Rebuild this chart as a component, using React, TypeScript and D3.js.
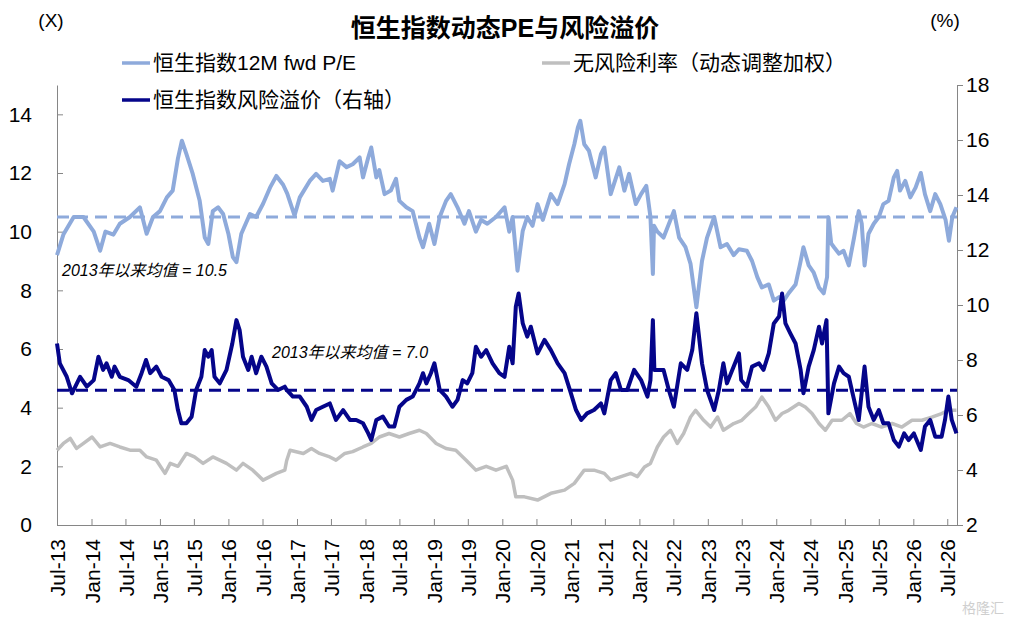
import { useEffect, useRef } from 'react';
import * as d3 from 'd3';

type Point = [string, number];

// 恒生指数12M fwd P/E (左轴, 倍)
const peSeries: Point[] = [
  ['2013-07-01', 9.2], ['2013-08-04', 9.9], ['2013-09-28', 10.5], ['2013-11-19', 10.5],
  ['2014-01-13', 10.0], ['2014-02-16', 9.35], ['2014-03-16', 10.0], ['2014-04-28', 9.9],
  ['2014-06-01', 10.27], ['2014-07-25', 10.5], ['2014-09-16', 10.83], ['2014-10-22', 9.93],
  ['2014-11-25', 10.5], ['2015-01-01', 10.7], ['2015-02-07', 11.17], ['2015-03-10', 11.4],
  ['2015-04-07', 12.5], ['2015-04-28', 13.1], ['2015-05-22', 12.65], ['2015-06-25', 11.97],
  ['2015-08-01', 11.05], ['2015-08-28', 9.8], ['2015-09-16', 9.58], ['2015-10-10', 10.7],
  ['2015-11-07', 10.83], ['2015-12-04', 10.6], ['2016-01-01', 9.93], ['2016-01-25', 9.13],
  ['2016-02-13', 8.96], ['2016-03-10', 9.93], ['2016-04-25', 10.6], ['2016-05-28', 10.5],
  ['2016-07-04', 10.95], ['2016-08-10', 11.5], ['2016-09-13', 11.9], ['2016-10-19', 11.6],
  ['2016-11-10', 11.3], ['2016-12-19', 10.55], ['2017-01-16', 11.17], ['2017-03-10', 11.73],
  ['2017-04-13', 11.97], ['2017-05-19', 11.73], ['2017-06-25', 11.8], ['2017-07-10', 11.4],
  ['2017-08-16', 12.4], ['2017-09-22', 12.2], ['2017-10-25', 12.3], ['2017-12-01', 12.53],
  ['2017-12-19', 11.85], ['2018-01-16', 12.53], ['2018-02-01', 12.87], ['2018-02-28', 11.85],
  ['2018-03-16', 12.1], ['2018-04-13', 11.28], ['2018-05-16', 11.4], ['2018-06-13', 11.8],
  ['2018-07-01', 11.05], ['2018-08-07', 10.83], ['2018-09-10', 10.7], ['2018-10-16', 9.8],
  ['2018-11-04', 9.47], ['2018-12-07', 10.27], ['2019-01-04', 9.58], ['2019-02-01', 10.5],
  ['2019-03-07', 11.05], ['2019-04-01', 11.28], ['2019-05-07', 10.83], ['2019-06-13', 10.27],
  ['2019-07-07', 10.7], ['2019-08-13', 10.0], ['2019-09-10', 10.4], ['2019-10-13', 10.27],
  ['2019-11-28', 10.5], ['2020-01-13', 10.83], ['2020-02-07', 10.0], ['2020-02-25', 10.5],
  ['2020-03-22', 8.67], ['2020-04-19', 10.03], ['2020-05-13', 10.5], ['2020-06-10', 10.2],
  ['2020-07-07', 10.94], ['2020-08-04', 10.4], ['2020-09-16', 11.28], ['2020-10-22', 10.94],
  ['2020-11-28', 11.62], ['2020-12-22', 12.3], ['2021-01-19', 12.98], ['2021-02-07', 13.55],
  ['2021-02-20', 13.78], ['2021-03-13', 12.98], ['2021-04-07', 12.76], ['2021-05-13', 11.85],
  ['2021-06-10', 12.64], ['2021-06-28', 12.87], ['2021-08-01', 11.28], ['2021-09-16', 12.19],
  ['2021-10-13', 11.4], ['2021-11-07', 11.97], ['2021-12-13', 10.94], ['2022-01-10', 11.28],
  ['2022-02-07', 11.56], ['2022-03-01', 10.5], ['2022-03-14', 8.56], ['2022-03-20', 10.2],
  ['2022-04-07', 10.0], ['2022-05-10', 9.8], ['2022-07-04', 10.7], ['2022-08-01', 9.8],
  ['2022-09-04', 9.47], ['2022-10-01', 8.9], ['2022-11-01', 7.42], ['2022-12-01', 9.0],
  ['2022-12-28', 9.8], ['2023-02-04', 10.5], ['2023-03-10', 9.47], ['2023-04-13', 9.58],
  ['2023-05-19', 9.2], ['2023-06-16', 9.4], ['2023-07-28', 9.35], ['2023-08-25', 9.0],
  ['2023-09-22', 8.45], ['2023-10-16', 8.1], ['2023-11-22', 8.2], ['2023-12-19', 7.65],
  ['2024-01-16', 7.77], ['2024-02-10', 7.65], ['2024-03-07', 7.9], ['2024-04-13', 8.2],
  ['2024-05-07', 8.9], ['2024-05-25', 9.47], ['2024-06-22', 8.85], ['2024-07-19', 8.6],
  ['2024-08-16', 8.1], ['2024-09-10', 7.9], ['2024-09-28', 8.45], ['2024-10-05', 10.49],
  ['2024-10-20', 9.6], ['2024-11-04', 9.47], ['2024-12-01', 9.25], ['2024-12-25', 9.35],
  ['2025-01-22', 8.85], ['2025-02-19', 9.8], ['2025-03-16', 10.7], ['2025-04-01', 10.27],
  ['2025-04-16', 8.85], ['2025-05-07', 9.93], ['2025-06-04', 10.27], ['2025-07-01', 10.5],
  ['2025-07-25', 10.94], ['2025-08-22', 11.05], ['2025-09-19', 11.85], ['2025-10-07', 12.07],
  ['2025-10-22', 11.4], ['2025-11-19', 11.73], ['2025-12-16', 11.17], ['2026-01-13', 11.5],
  ['2026-02-10', 12.0], ['2026-03-04', 11.28], ['2026-04-01', 10.7], ['2026-04-28', 11.28],
  ['2026-05-25', 10.94], ['2026-06-22', 10.4], ['2026-07-10', 9.69], ['2026-07-28', 10.5],
  ['2026-08-19', 10.83],
];

// 恒生指数风险溢价 (右轴, %)
const erpSeries: Point[] = [
  ['2013-07-01', 8.6], ['2013-07-16', 7.88], ['2013-08-22', 7.39], ['2013-09-19', 6.79],
  ['2013-11-01', 7.39], ['2013-12-07', 7.03], ['2014-01-13', 7.27], ['2014-02-07', 8.12],
  ['2014-03-04', 7.64], ['2014-03-22', 7.88], ['2014-04-19', 7.39], ['2014-05-04', 7.76],
  ['2014-06-01', 7.39], ['2014-07-16', 7.27], ['2014-08-28', 7.03], ['2014-09-25', 7.52],
  ['2014-10-19', 8.0], ['2014-11-10', 7.52], ['2014-12-13', 7.76], ['2015-01-10', 7.39],
  ['2015-02-16', 7.27], ['2015-03-19', 6.91], ['2015-04-07', 6.18], ['2015-04-25', 5.7],
  ['2015-05-22', 5.7], ['2015-06-19', 5.94], ['2015-07-13', 6.91], ['2015-08-10', 7.39],
  ['2015-08-28', 8.36], ['2015-09-16', 8.12], ['2015-10-04', 8.36], ['2015-10-19', 7.39],
  ['2015-11-16', 7.15], ['2015-12-22', 7.64], ['2016-01-22', 8.6], ['2016-02-13', 9.45],
  ['2016-03-01', 9.09], ['2016-03-19', 8.12], ['2016-04-16', 7.64], ['2016-05-04', 8.12],
  ['2016-05-28', 7.52], ['2016-06-25', 8.12], ['2016-07-22', 7.76], ['2016-08-19', 7.15],
  ['2016-09-22', 6.91], ['2016-10-28', 7.03], ['2016-11-07', 6.91], ['2016-12-10', 6.67],
  ['2017-01-16', 6.67], ['2017-02-22', 6.3], ['2017-03-19', 5.82], ['2017-04-13', 6.18],
  ['2017-05-19', 6.3], ['2017-06-25', 6.42], ['2017-07-28', 5.82], ['2017-09-04', 6.18],
  ['2017-10-10', 5.82], ['2017-11-13', 5.82], ['2017-12-19', 5.7], ['2018-01-16', 5.33],
  ['2018-02-01', 5.09], ['2018-02-28', 5.82], ['2018-04-04', 5.94], ['2018-05-07', 5.58],
  ['2018-06-04', 5.58], ['2018-07-01', 6.3], ['2018-08-07', 6.55], ['2018-09-10', 6.67],
  ['2018-10-16', 7.15], ['2018-11-04', 7.52], ['2018-11-22', 7.15], ['2018-12-16', 7.52],
  ['2019-01-04', 7.88], ['2019-02-01', 6.91], ['2019-03-07', 6.67], ['2019-04-10', 6.3],
  ['2019-05-07', 6.55], ['2019-06-04', 7.27], ['2019-06-28', 7.15], ['2019-07-25', 7.52],
  ['2019-08-13', 8.48], ['2019-09-10', 8.12], ['2019-10-07', 8.36], ['2019-11-10', 7.88],
  ['2019-12-16', 7.52], ['2020-01-13', 7.39], ['2020-02-07', 8.48], ['2020-02-25', 7.88],
  ['2020-03-13', 9.94], ['2020-03-28', 10.42], ['2020-04-19', 9.33], ['2020-05-13', 8.85],
  ['2020-06-01', 9.21], ['2020-07-07', 8.24], ['2020-08-13', 8.73], ['2020-09-16', 8.36],
  ['2020-10-22', 7.88], ['2020-11-28', 7.52], ['2021-01-01', 6.79], ['2021-01-28', 6.18],
  ['2021-02-25', 5.82], ['2021-03-28', 6.06], ['2021-05-04', 6.18], ['2021-06-10', 6.42],
  ['2021-06-28', 6.06], ['2021-08-01', 7.27], ['2021-08-28', 7.52], ['2021-09-25', 6.91],
  ['2021-10-28', 6.91], ['2021-12-04', 7.64], ['2022-01-10', 7.27], ['2022-02-13', 6.67],
  ['2022-03-01', 7.27], ['2022-03-14', 9.45], ['2022-03-22', 7.64], ['2022-05-10', 7.64],
  ['2022-06-07', 6.91], ['2022-07-04', 6.3], ['2022-08-10', 7.88], ['2022-09-13', 7.64],
  ['2022-10-10', 8.36], ['2022-11-01', 9.7], ['2022-12-01', 7.88], ['2022-12-28', 6.91],
  ['2023-02-04', 6.18], ['2023-03-01', 6.91], ['2023-03-25', 7.88], ['2023-04-13', 7.15],
  ['2023-05-19', 7.76], ['2023-06-16', 8.24], ['2023-06-28', 7.27], ['2023-07-28', 7.03],
  ['2023-08-25', 7.76], ['2023-10-01', 7.88], ['2023-10-25', 7.64], ['2023-11-22', 8.24],
  ['2023-12-19', 9.33], ['2024-01-16', 9.58], ['2024-02-01', 10.42], ['2024-02-19', 9.33],
  ['2024-03-16', 8.97], ['2024-04-13', 8.6], ['2024-05-10', 7.64], ['2024-05-25', 6.79],
  ['2024-06-22', 7.76], ['2024-07-19', 8.36], ['2024-08-16', 9.21], ['2024-09-01', 8.6],
  ['2024-09-25', 9.45], ['2024-10-05', 6.06], ['2024-11-04', 7.15], ['2024-12-01', 7.76],
  ['2024-12-25', 7.52], ['2025-01-22', 7.39], ['2025-02-19', 6.55], ['2025-03-16', 5.82],
  ['2025-04-16', 7.76], ['2025-05-07', 6.3], ['2025-06-04', 5.82], ['2025-07-01', 6.18],
  ['2025-07-25', 5.7], ['2025-08-22', 5.7], ['2025-09-19', 5.09], ['2025-10-16', 4.85],
  ['2025-11-13', 5.33], ['2025-12-07', 5.09], ['2026-01-04', 5.33], ['2026-02-10', 4.73],
  ['2026-03-04', 5.58], ['2026-04-01', 5.82], ['2026-04-28', 5.21], ['2026-06-01', 5.21],
  ['2026-06-19', 5.82], ['2026-07-07', 6.67], ['2026-07-25', 5.82], ['2026-08-19', 5.33],
];

// 无风险利率（动态调整加权）(左轴刻度)
const rfSeries: Point[] = [
  ['2013-07-01', 2.55], ['2013-08-04', 2.78], ['2013-09-10', 2.95], ['2013-10-13', 2.61],
  ['2013-11-19', 2.78], ['2014-01-04', 3.0], ['2014-02-16', 2.66], ['2014-04-10', 2.78],
  ['2014-06-01', 2.66], ['2014-07-25', 2.55], ['2014-09-16', 2.55], ['2014-10-22', 2.32],
  ['2014-12-13', 2.21], ['2015-01-28', 1.76], ['2015-02-25', 2.1], ['2015-04-07', 2.0],
  ['2015-05-22', 2.44], ['2015-07-04', 2.32], ['2015-08-19', 2.1], ['2015-10-10', 2.32],
  ['2015-11-16', 2.21], ['2015-12-22', 2.1], ['2016-02-13', 1.87], ['2016-03-19', 2.1],
  ['2016-05-10', 1.87], ['2016-07-04', 1.53], ['2016-08-10', 1.65], ['2016-09-13', 1.76],
  ['2016-10-28', 1.87], ['2016-11-07', 2.2], ['2016-11-25', 2.55], ['2017-02-04', 2.44],
  ['2017-03-19', 2.61], ['2017-05-01', 2.44], ['2017-06-25', 2.32], ['2017-07-28', 2.21],
  ['2017-09-13', 2.44], ['2017-10-25', 2.5], ['2017-12-19', 2.66], ['2018-02-01', 2.78],
  ['2018-03-16', 3.0], ['2018-05-07', 3.12], ['2018-07-01', 3.0], ['2018-08-22', 3.12],
  ['2018-10-16', 3.23], ['2018-11-22', 3.12], ['2019-01-13', 2.78], ['2019-03-07', 2.61],
  ['2019-04-28', 2.55], ['2019-06-22', 2.21], ['2019-08-13', 1.87], ['2019-10-07', 2.0],
  ['2019-11-28', 1.87], ['2020-01-22', 2.0], ['2020-02-25', 1.53], ['2020-03-13', 0.96],
  ['2020-04-28', 0.96], ['2020-07-07', 0.85], ['2020-09-16', 1.08], ['2020-11-28', 1.19],
  ['2021-01-19', 1.42], ['2021-03-13', 1.87], ['2021-05-04', 1.87], ['2021-06-28', 1.76],
  ['2021-08-01', 1.53], ['2021-09-25', 1.65], ['2021-11-16', 1.76], ['2021-12-22', 1.65],
  ['2022-01-28', 1.98], ['2022-03-01', 2.1], ['2022-04-07', 2.66], ['2022-05-10', 3.0],
  ['2022-06-16', 3.23], ['2022-07-22', 2.78], ['2022-08-25', 3.12], ['2022-10-01', 3.68],
  ['2022-10-28', 3.91], ['2022-12-10', 3.57], ['2023-01-16', 3.34], ['2023-02-22', 3.68],
  ['2023-03-25', 3.23], ['2023-05-19', 3.46], ['2023-07-01', 3.57], ['2023-08-07', 3.8],
  ['2023-09-13', 4.02], ['2023-10-16', 4.36], ['2023-11-22', 4.02], ['2023-12-28', 3.57],
  ['2024-02-01', 3.8], ['2024-03-07', 3.91], ['2024-05-01', 4.14], ['2024-06-04', 4.02],
  ['2024-07-10', 3.8], ['2024-08-16', 3.46], ['2024-09-19', 3.23], ['2024-10-25', 3.57],
  ['2024-12-16', 3.57], ['2025-01-28', 3.8], ['2025-03-04', 3.46], ['2025-04-10', 3.34],
  ['2025-05-25', 3.46], ['2025-07-16', 3.34], ['2025-09-10', 3.46], ['2025-11-01', 3.34],
  ['2025-12-25', 3.57], ['2026-02-16', 3.57], ['2026-04-10', 3.68], ['2026-06-01', 3.8],
  ['2026-07-07', 3.91], ['2026-08-19', 3.91],
];

// 2013年以来均值 (dashed lines sit where the picture puts them; labels show the rounded value)
const peMean = 10.5;
const erpMean = 6.9;
const peMeanLabel = '2013年以来均值 = 10.5';
const erpMeanLabel = '2013年以来均值 = 7.0';

const leftTicks = [0, 2, 4, 6, 8, 10, 12, 14];
const rightTicks = [2, 4, 6, 8, 10, 12, 14, 16, 18];
const xTickLabels = [
  'Jul-13', 'Jan-14', 'Jul-14', 'Jan-15', 'Jul-15', 'Jan-16', 'Jul-16', 'Jan-17', 'Jul-17',
  'Jan-18', 'Jul-18', 'Jan-19', 'Jul-19', 'Jan-20', 'Jul-20', 'Jan-21', 'Jul-21', 'Jan-22',
  'Jul-22', 'Jan-23', 'Jul-23', 'Jan-24', 'Jul-24', 'Jan-25', 'Jul-25', 'Jan-26', 'Jul-26',
];

const PE_COLOR = '#8eaadb';
const ERP_COLOR = '#05058a';
const RF_COLOR = '#bfbfbf';
const AXIS_COLOR = '#868686';
const FONT = '"Liberation Sans", Arial, "Noto Sans CJK SC", sans-serif';

export default function App() {
  const svgRef = useRef<SVGSVGElement>(null);

  useEffect(() => {
    if (!svgRef.current) return;
    const svg = d3.select(svgRef.current);
    svg.selectAll('*').remove();

    const left = 57, right = 957, top = 85, bottom = 525;
    const parseDate = d3.timeParse('%Y-%m-%d');
    const parseTick = d3.timeParse('%b-%y');

    const x = d3.scaleTime()
      .domain([parseDate('2013-07-01') as Date, parseDate('2026-08-22') as Date])
      .range([left, right]);
    const yL = d3.scaleLinear().domain([0, 15]).range([bottom, top]);
    const yR = d3.scaleLinear().domain([2, 18]).range([bottom, top]);

    // Title and unit labels
    svg.append('text')
      .attr('x', 505).attr('y', 28).attr('dy', '0.35em')
      .attr('text-anchor', 'middle')
      .attr('font-size', 25).attr('font-weight', 'bold')
      .text('恒生指数动态PE与风险溢价');
    svg.append('text')
      .attr('x', 51).attr('y', 20).attr('dy', '0.35em')
      .attr('text-anchor', 'middle').attr('font-size', 19)
      .text('(X)');
    svg.append('text')
      .attr('x', 945).attr('y', 20).attr('dy', '0.35em')
      .attr('text-anchor', 'middle').attr('font-size', 19)
      .text('(%)');

    // Legend
    const legend = [
      { label: '恒生指数12M fwd P/E', color: PE_COLOR, x: 122, y: 63 },
      { label: '无风险利率（动态调整加权）', color: RF_COLOR, x: 542, y: 63 },
      { label: '恒生指数风险溢价（右轴）', color: ERP_COLOR, x: 122, y: 100 },
    ];
    legend.forEach(item => {
      svg.append('line')
        .attr('x1', item.x).attr('x2', item.x + 28)
        .attr('y1', item.y).attr('y2', item.y)
        .attr('stroke', item.color).attr('stroke-width', 3.5);
      svg.append('text')
        .attr('x', item.x + 31).attr('y', item.y).attr('dy', '0.35em')
        .attr('font-size', 21)
        .text(item.label);
    });

    // Axes
    const xAxis = svg.append('g')
      .attr('transform', `translate(0,${bottom})`)
      .call(d3.axisBottom(x)
        .tickValues(xTickLabels.map(t => parseTick(t) as Date))
        .tickFormat((_, i) => xTickLabels[i])
        .tickSizeInner(-6)
        .tickSizeOuter(0));
    xAxis.selectAll('text')
      .attr('transform', 'rotate(-90)')
      .attr('text-anchor', 'end')
      .attr('x', -14).attr('y', 0).attr('dy', '0.36em')
      .attr('font-size', 21).attr('fill', '#000');

    const yAxisL = svg.append('g')
      .attr('transform', `translate(${left},0)`)
      .call(d3.axisLeft(yL).tickValues(leftTicks).tickSizeInner(-6).tickSizeOuter(0).tickPadding(25));
    yAxisL.selectAll('text').attr('font-size', 21).attr('fill', '#000');

    const yAxisR = svg.append('g')
      .attr('transform', `translate(${right},0)`)
      .call(d3.axisRight(yR).tickValues(rightTicks).tickSizeInner(6).tickSizeOuter(0).tickPadding(3));
    yAxisR.selectAll('text').attr('font-size', 21).attr('fill', '#000');

    [xAxis, yAxisL, yAxisR].forEach(g => {
      g.attr('font-family', FONT);
      g.select('.domain').attr('stroke', AXIS_COLOR);
      g.selectAll('line').attr('stroke', AXIS_COLOR);
    });

    // Mean lines
    svg.append('line')
      .attr('x1', left).attr('x2', right)
      .attr('y1', yL(peMean)).attr('y2', yL(peMean))
      .attr('stroke', PE_COLOR).attr('stroke-width', 3)
      .attr('stroke-dasharray', '12,7');
    svg.append('line')
      .attr('x1', left).attr('x2', right)
      .attr('y1', yR(erpMean)).attr('y2', yR(erpMean))
      .attr('stroke', ERP_COLOR).attr('stroke-width', 3)
      .attr('stroke-dasharray', '12,7');

    // Series
    const lineL = d3.line<Point>()
      .x(d => x(parseDate(d[0]) as Date))
      .y(d => yL(d[1]));
    const lineR = d3.line<Point>()
      .x(d => x(parseDate(d[0]) as Date))
      .y(d => yR(d[1]));

    const drawSeries = (data: Point[], gen: d3.Line<Point>, color: string, width: number) => {
      svg.append('path')
        .datum(data)
        .attr('fill', 'none')
        .attr('stroke', color)
        .attr('stroke-width', width)
        .attr('stroke-linejoin', 'round')
        .attr('d', gen);
    };
    drawSeries(rfSeries, lineL, RF_COLOR, 3.5);
    drawSeries(peSeries, lineL, PE_COLOR, 4);
    drawSeries(erpSeries, lineR, ERP_COLOR, 4);

    // Mean annotations
    svg.append('text')
      .attr('x', 62).attr('y', 270).attr('dy', '0.35em')
      .attr('font-size', 16).attr('font-style', 'italic')
      .text(peMeanLabel);
    svg.append('text')
      .attr('x', 272).attr('y', 352).attr('dy', '0.35em')
      .attr('font-size', 16).attr('font-style', 'italic')
      .text(erpMeanLabel);

    // Watermark
    svg.append('text')
      .attr('x', 1004).attr('y', 608).attr('dy', '0.35em')
      .attr('text-anchor', 'end').attr('font-size', 14)
      .attr('fill', '#cfcfcf')
      .text('格隆汇');
  }, []);

  return (
    <svg
      ref={svgRef}
      width={1011}
      height={622}
      fontFamily={FONT}
      style={{ position: 'absolute', left: 0, top: 0, background: '#fff' }}
    />
  );
}
